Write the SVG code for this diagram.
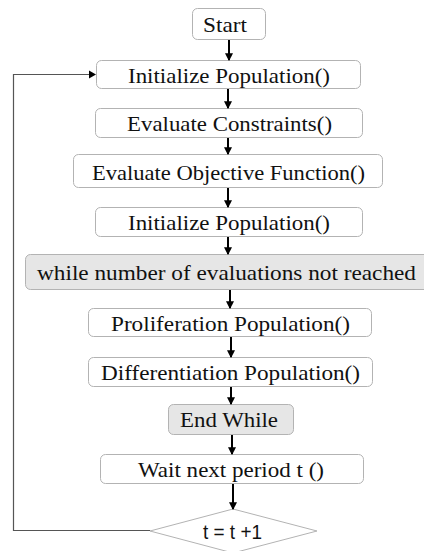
<svg xmlns="http://www.w3.org/2000/svg" width="424" height="551" viewBox="0 0 424 551">
<defs>
<marker id="ah" markerWidth="8" markerHeight="8" refX="6" refY="3.5" orient="auto" markerUnits="userSpaceOnUse" viewBox="0 0 7 7">
<path d="M0,0 L7,3.5 L0,7 Z" fill="#000"/>
</marker>
<style>
.box{fill:#fff;stroke:#b3b3b3;stroke-width:1}
.gbox{fill:#e6e6e6;stroke:#b3b3b3;stroke-width:1}
.t{font-family:"Liberation Serif","Times New Roman",serif;font-size:21px;fill:#111;text-anchor:middle}
.s{font-family:"Liberation Sans",Arial,sans-serif;font-size:20px;fill:#111;text-anchor:middle}
.a{stroke:#000;stroke-width:2;fill:none;marker-end:url(#ah)}
.fb{stroke:#555;stroke-width:1.2;fill:none}
</style>
</defs>
<rect width="424" height="551" fill="#fff"/>
<g id="start"><rect class="box" x="192.5" y="8.5" width="73" height="31" rx="5"/><text class="t" x="225" y="31.5" textLength="44" lengthAdjust="spacingAndGlyphs">Start</text></g>
<g id="init1"><rect class="box" x="96.5" y="60.5" width="264" height="28" rx="5"/><text class="t" x="229" y="83" textLength="202" lengthAdjust="spacingAndGlyphs">Initialize Population()</text></g>
<g id="evalc"><rect class="box" x="95.5" y="108.5" width="267" height="29" rx="5"/><text class="t" x="229.5" y="130.5" textLength="205" lengthAdjust="spacingAndGlyphs">Evaluate Constraints()</text></g>
<g id="evalo"><rect class="box" x="73.5" y="154.5" width="309" height="33" rx="5"/><text class="t" x="228.5" y="179.5" textLength="273" lengthAdjust="spacingAndGlyphs">Evaluate Objective Function()</text></g>
<g id="init2"><rect class="box" x="95.5" y="207.5" width="267" height="29" rx="5"/><text class="t" x="229" y="230" textLength="202" lengthAdjust="spacingAndGlyphs">Initialize Population()</text></g>
<g id="while"><rect class="gbox" x="25.5" y="254.5" width="410" height="35" rx="5"/><text class="t" x="226.5" y="279.5" textLength="379" lengthAdjust="spacingAndGlyphs">while number of evaluations not reached</text></g>
<g id="prolif"><rect class="box" x="88.5" y="308.5" width="283" height="28" rx="5"/><text class="t" x="230.5" y="330.5" textLength="239" lengthAdjust="spacingAndGlyphs">Proliferation Population()</text></g>
<g id="diff"><rect class="box" x="88.5" y="357.5" width="284" height="29" rx="5"/><text class="t" x="230.5" y="380" textLength="259" lengthAdjust="spacingAndGlyphs">Differentiation Population()</text></g>
<g id="endwhile"><rect class="gbox" x="168.5" y="404.5" width="125" height="30" rx="5"/><text class="t" x="229" y="427" textLength="98" lengthAdjust="spacingAndGlyphs">End While</text></g>
<g id="wait"><rect class="box" x="100.5" y="454.5" width="263" height="29" rx="5"/><text class="t" x="231" y="477" textLength="186" lengthAdjust="spacingAndGlyphs">Wait next period t ()</text></g>
<g id="cond"><polygon class="box" points="233,509 317,531 233,553 150,531"/><text class="s" x="232.5" y="538.5" textLength="59" lengthAdjust="spacingAndGlyphs">t = t +1</text></g>
<g id="connectors">
<line class="a" x1="229" y1="40" x2="229" y2="60"/>
<line class="a" x1="228" y1="89" x2="228" y2="108"/>
<line class="a" x1="228" y1="138" x2="228" y2="154"/>
<line class="a" x1="228" y1="188" x2="228" y2="207"/>
<line class="a" x1="228" y1="237" x2="228" y2="254"/>
<line class="a" x1="230" y1="290" x2="230" y2="308"/>
<line class="a" x1="231" y1="337" x2="231" y2="357"/>
<line class="a" x1="231" y1="387" x2="231" y2="404"/>
<line class="a" x1="232" y1="435" x2="232" y2="454"/>
<line class="a" x1="233" y1="484" x2="233" y2="509"/>
<path class="fb" d="M150,530.5 H13.5 V74.5 H90"/>
<path d="M89,70.5 L96,74.5 L89,78.5 Z" fill="#000"/>
</g>
</svg>
